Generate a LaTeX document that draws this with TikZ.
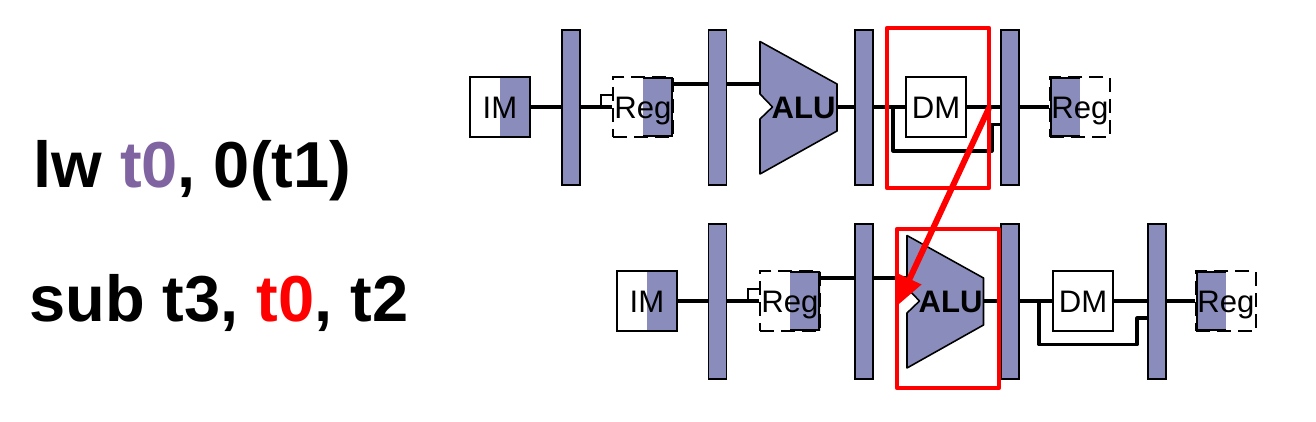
\documentclass[tikz,border=0pt]{standalone}
\usepackage{fontspec}
\setmainfont{Liberation Sans}
\usetikzlibrary{arrows.meta}

\definecolor{stageblue}{RGB}{138,141,187}
\definecolor{tzeropurple}{RGB}{128,100,162}

\tikzset{
    wire/.style={line width=1.8pt, black},
    hook/.style={line width=0.7pt, black},
    latch/.style={draw=black, fill=stageblue, line width=0.9pt, minimum width=0.36cm, minimum height=3.1cm, inner sep=0pt},
    unit/.style={draw=black, line width=1pt, minimum width=1.2cm, minimum height=1.2cm, inner sep=0pt, text height=12.7pt, text depth=0pt, font=\fontsize{17.7}{18}\selectfont},
    shaderight/.style={unit, path picture={\fill[stageblue] (path picture bounding box.north) rectangle (path picture bounding box.south east);}},
    regdash/.style={unit, dash pattern=on 8pt off 4pt},
    regleft/.style={regdash, path picture={\fill[stageblue] (path picture bounding box.north) rectangle (path picture bounding box.south east);
        \draw[solid, line width=2pt] (path picture bounding box.north) -- (path picture bounding box.north east) -- (path picture bounding box.south east) -- (path picture bounding box.south);}},
    regright/.style={regdash, path picture={\fill[stageblue] (path picture bounding box.north) rectangle (path picture bounding box.south west);
        \draw[solid, line width=2pt] (path picture bounding box.north) -- (path picture bounding box.north west) -- (path picture bounding box.south west) -- (path picture bounding box.south);}},
    alubody/.style={draw=black, fill=stageblue, line width=0.9pt, line join=round},
    alutext/.style={inner sep=0pt, text height=12.7pt, text depth=0pt, font=\fontsize{17.7}{18}\selectfont\bfseries},
    instr/.style={inner sep=0pt, anchor=base west, font=\fontsize{37}{37}\selectfont\bfseries},
    focus/.style={draw=red, line width=2.6pt, line join=round},
}

\begin{document}
\begin{tikzpicture}[x=0.02cm, y=-0.02cm]
    \useasboundingbox (0,0) rectangle (1316,422);

    % Instructions
    \node[instr] (lwtext) at (33,188) {lw \textcolor{tzeropurple}{t0}, 0(t1)};
    \node[instr] (subtext) at (29,321.5) {sub t3, \textcolor{red}{t0}, t2};

    % First row
    \node[shaderight] (im1) at (500,107) {IM};
    \node[latch] (ifid1) at (571,107.5) {};
    \node[regleft] (regread1) at (643,107) {Reg};
    \node[latch] (idex1) at (717.5,107.5) {};
    \draw[alubody] (760,41.5) -- (837,84) -- (837,131) -- (760,174) -- (760,119) -- (772.5,107) -- (760,94) -- cycle;
    \node[alutext] (alu1) at (803.5,107.5) {ALU};
    \node[latch] (exmem1) at (864,107.5) {};
    \node[unit] (dm1) at (936,107) {DM};
    \node[latch] (memwb1) at (1010,107.5) {};
    \node[regright] (regwrite1) at (1080,107) {Reg};

    % First row wires
    \coordinate (aluin1) at (760,84);
    \coordinate (aluout1) at (837,107);
    \coordinate (regout1) at (673,84);
    \coordinate (hookbase1) at (601,107);
    \coordinate (bypass1) at (893,107);
    \draw[wire] (im1) -- (im1 -| ifid1.west);
    \draw[wire] (ifid1.east |- regread1) -- (regread1.west);
    \draw[hook] (hookbase1) -- ++(0,-12) -- ++(12,0);
    \draw[wire] (regout1) -- (regout1 -| idex1.west);
    \draw[wire] (aluin1 -| idex1.east) -- (aluin1);
    \draw[wire] (aluout1) -- (aluout1 -| exmem1.west);
    \draw[wire] (exmem1.east |- dm1) -- (dm1.west);
    \draw[wire] (dm1.east) -- (dm1.east -| memwb1.west);
    \draw[wire] (memwb1.east |- regwrite1) -- (regwrite1.west);
    \draw[wire, line join=round] (bypass1) -- (893,151) -- (992,151) -- (992,124.5) -- (memwb1.west |- 0,124.5);

    % Second row
    \node[shaderight] (im2) at (647,301) {IM};
    \node[latch] (ifid2) at (717.5,301.5) {};
    \node[regleft] (regread2) at (790,301) {Reg};
    \node[latch] (idex2) at (864,301.5) {};
    \draw[alubody] (907,235.5) -- (983.5,278) -- (983.5,325) -- (907,368) -- (907,313) -- (919.5,301) -- (907,288) -- cycle;
    \node[alutext] (alu2) at (950.5,301.5) {ALU};
    \node[latch] (exmem2) at (1010,301.5) {};
    \node[unit] (dm2) at (1083,301) {DM};
    \node[latch] (memwb2) at (1157,301.5) {};
    \node[regright] (regwrite2) at (1226,301) {Reg};

    % Second row wires
    \coordinate (aluin2) at (907,278);
    \coordinate (aluout2) at (983.5,301);
    \coordinate (regout2) at (820,278);
    \coordinate (hookbase2) at (748,301);
    \coordinate (bypass2) at (1039,301);
    \draw[wire] (im2) -- (im2 -| ifid2.west);
    \draw[wire] (ifid2.east |- regread2) -- (regread2.west);
    \draw[hook] (hookbase2) -- ++(0,-12) -- ++(12,0);
    \draw[wire] (regout2) -- (regout2 -| idex2.west);
    \draw[wire] (aluin2 -| idex2.east) -- (aluin2);
    \draw[wire] (aluout2) -- (aluout2 -| exmem2.west);
    \draw[wire] (exmem2.east |- dm2) -- (dm2.west);
    \draw[wire] (dm2.east) -- (dm2.east -| memwb2.west);
    \draw[wire] (memwb2.east |- regwrite2) -- (regwrite2.west);
    \draw[wire, line join=round] (bypass2) -- (1039,344.5) -- (1137,344.5) -- (1137,318) -- (memwb2.west |- 0,318);

    % Forwarding highlight
    \node[focus, minimum width=2.04cm, minimum height=3.2cm, inner sep=0pt] (dmfocus) at (938,108) {};
    \node[focus, minimum width=2.04cm, minimum height=3.18cm, inner sep=0pt] (alufocus) at (948,308.5) {};
    \coordinate (fwdfrom) at (989,108);
    \coordinate (fwdto) at (897,306);
    \draw[red, line width=3.4pt, -{Triangle[length=17pt, width=14pt]}] (fwdfrom) -- (fwdto);
\end{tikzpicture}
\end{document}
